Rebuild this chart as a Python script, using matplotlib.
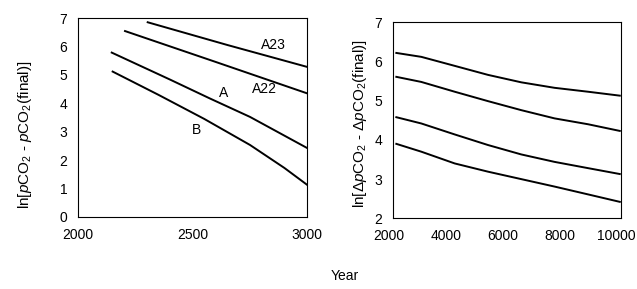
import matplotlib
matplotlib.use('Agg')
import matplotlib.pyplot as plt
import matplotlib.transforms as mtransforms

plt.rcParams['font.family'] = 'Liberation Sans'
plt.rcParams['mathtext.fontset'] = 'custom'
plt.rcParams['mathtext.rm'] = 'Liberation Sans'
plt.rcParams['mathtext.it'] = 'Liberation Sans:italic'

# left panel: ln[pCO2 - pCO2(final)] vs year
yr_a23 = [2303, 2650, 2997]
ln_a23 = [6.86, 6.06, 5.29]

yr_a22 = [2204, 2600, 3000]
ln_a22 = [6.55, 5.46, 4.35]

yr_a = [2146, 2400, 2575, 2750, 3000]
ln_a = [5.79, 4.84, 4.17, 3.52, 2.42]

yr_b = [2150, 2350, 2550, 2750, 2900, 3000]
ln_b = [5.12, 4.30, 3.45, 2.53, 1.72, 1.12]

# right panel: ln[dpCO2 - dpCO2(final)] vs year
yr_r = [2116, 2995, 4170, 5340, 6510, 7680, 8860, 9975]
ln_r1 = [6.22, 6.12, 5.89, 5.66, 5.47, 5.33, 5.23, 5.13]
ln_r2 = [5.61, 5.48, 5.23, 4.99, 4.76, 4.55, 4.40, 4.23]
ln_r3 = [4.58, 4.42, 4.14, 3.87, 3.63, 3.44, 3.28, 3.13]
ln_r4 = [3.90, 3.70, 3.40, 3.19, 3.00, 2.81, 2.61, 2.42]

fig = plt.figure(figsize=(6.37, 2.89), dpi=100)
ax1 = fig.add_axes([0.1229, 0.2502, 0.3595, 0.6865])
ax2 = fig.add_axes([0.617, 0.2446, 0.3571, 0.678])

lw = 1.4
ax1.plot(yr_a23, ln_a23, 'k-', lw=lw)
ax1.plot(yr_a22, ln_a22, 'k-', lw=lw)
ax1.plot(yr_a, ln_a, 'k-', lw=lw)
ax1.plot(yr_b, ln_b, 'k-', lw=lw)
ax1.text(2852, 6.06, 'A23', fontsize=10, ha='center', va='center')
ax1.text(2815, 4.51, 'A22', fontsize=10, ha='center', va='center')
ax1.text(2636, 4.38, 'A', fontsize=10, ha='center', va='center')
ax1.text(2517, 3.06, 'B', fontsize=10, ha='center', va='center')
ax1.set_xlim(2000, 3000)
ax1.set_ylim(0, 7)
ax1.set_xticks([2000, 2500, 3000])
ax1.set_yticks(range(0, 8))

for ln in [ln_r1, ln_r2, ln_r3, ln_r4]:
    ax2.plot(yr_r, ln, 'k-', lw=lw)
ax2.set_xlim(2000, 10000)
ax2.set_ylim(2, 7)
ax2.set_xticks([2000, 4000, 6000, 8000, 10000])
ax2.set_yticks(range(2, 8))

for ax in [ax1, ax2]:
    ax.tick_params(length=0, labelsize=10, pad=8)
    for s in ax.spines.values():
        s.set_linewidth(0.8)

# nudge right panel year labels left so 10000 stays on the page
shift = mtransforms.ScaledTranslation(-4/100, 0, fig.dpi_scale_trans)
for lab in ax2.get_xticklabels():
    lab.set_transform(lab.get_transform() + shift)

fig.text(25/637, 1 - 135/289, r'ln[$\it{p}$CO$_2$ - $\it{p}$CO$_2$(final)]',
         rotation=90, ha='center', va='center', fontsize=11)
fig.text(360/637, 1 - 124/289, r'ln[$\Delta\it{p}$CO$_2$ - $\Delta\it{p}$CO$_2$(final)]',
         rotation=90, ha='center', va='center', fontsize=11)
fig.text(345/637, 1 - 276/289, 'Year', ha='center', va='center', fontsize=10)

fig.savefig('out.png', dpi=100)
